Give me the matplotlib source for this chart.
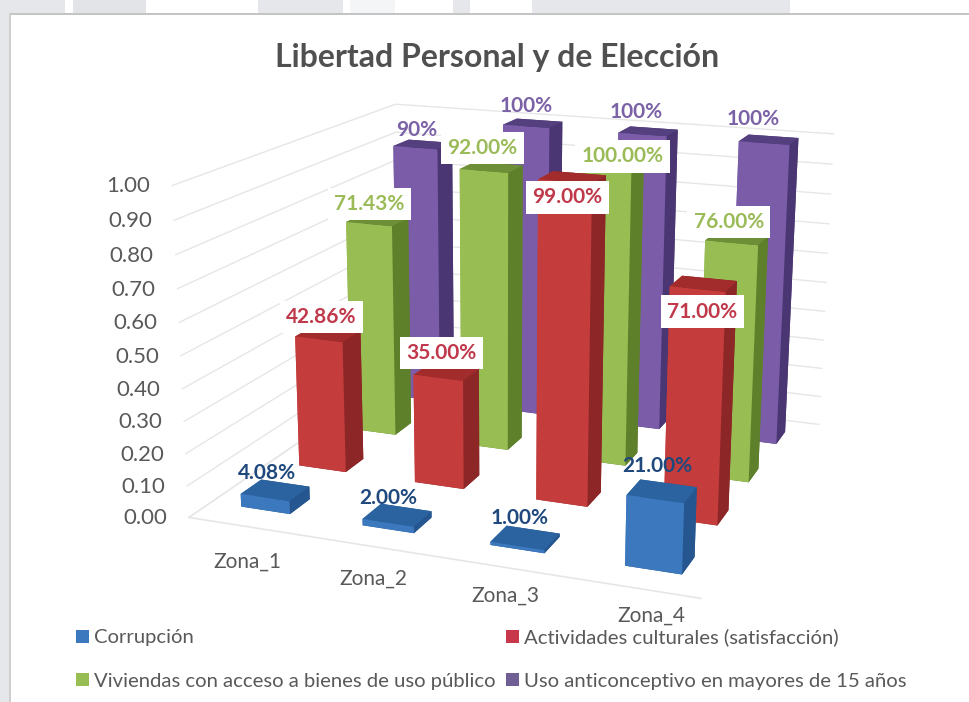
import numpy as np, matplotlib
matplotlib.use('Agg')
import matplotlib.pyplot as plt
from matplotlib.patches import Patch, Rectangle
from mpl_toolkits.mplot3d import proj3d

zones = ['Zona_1', 'Zona_2', 'Zona_3', 'Zona_4']
series = ['Corrupción', 'Actividades culturales (satisfacción)',
          'Viviendas con acceso a bienes de uso público',
          'Uso anticonceptivo en mayores de 15 años']
corrupcion = [0.0408, 0.02, 0.01, 0.21]
actividades = [0.4286, 0.35, 0.99, 0.71]
viviendas = [0.7143, 0.92, 1.00, 0.76]
anticonceptivo = [0.90, 1.00, 1.00, 1.00]
label_fmt = ['{:.2%}', '{:.2%}', '{:.2%}', '{:.0%}']
z_ticks = [0.0, 0.1, 0.2, 0.3, 0.4, 0.5, 0.6, 0.7, 0.8, 0.9, 1.0]

values = [corrupcion, actividades, viviendas, anticonceptivo]
front = ['#3B78BE', '#C43C3C', '#97BD53', '#7A5CA8']
side = ['#25568F', '#8C2627', '#5F802B', '#4A3672']
top = ['#2A639F', '#A22B2B', '#6E8E38', '#55407F']
text_c = ['#1F497D', '#C0394B', '#9BBB59', '#7B62A6']
boxed = [False, True, True, False]
legend_c = ['#3B78BE', '#C8374A', '#97BD53', '#6F5F95']
# pixel nudges of the data labels, one row per series
nudge_x = [[1, 0.5, 3, 4], [2, 4.5, 4, 8], [1, 0, 19, 1], [3, 2.5, -3, -7]]
nudge_y = [[3, 3, 6, 11], [3, 5, -34, -42], [2, 5, -19, 2], [0, 3, 5, 7]]
zone_off_x = [4, 4.5, 5, 12]
zone_off_y = [-36, -33, -29, -27]

plt.rcParams['font.family'] = ['Lato', 'DejaVu Sans']
W, H = 970, 702
fig = plt.figure(figsize=(9.7, 7.02), dpi=100, facecolor='white')

# page behind the chart
for (x0, y0, x1, y1, c) in [(0, 0, 10, 702, '#E6E7EB'), (0, 0, 65, 13, '#E6E7EB'),
                            (73, 0, 146, 13, '#E3E4E8'), (258, 0, 343, 13, '#E6E7EB'),
                            (350, 0, 395, 13, '#F4F5F6'), (453, 0, 470, 13, '#E6E7EB'),
                            (532, 0, 790, 13, '#E6E7EB'), (10, 13, 970, 14.5, '#C4C4C4'),
                            (9.5, 13, 11, 702, '#CFCFCF')]:
    fig.add_artist(Rectangle((x0 / W, 1 - y1 / H), (x1 - x0) / W, (y1 - y0) / H,
                             transform=fig.transFigure, fc=c, ec='none'))

s, tx, ty = 4033.84, 526.71, 316.44
vx0, vx1 = -0.095, 0.09
left = s * vx0 + tx
bottom_px = -s * vx0 + ty
side_px = s * (vx1 - vx0)
ax = fig.add_axes([left / W, 1 - bottom_px / H, side_px / W, side_px / H], projection='3d',
                  computed_zorder=False)
ax.patch.set_alpha(0)
ax.set_xlim(0, 4, view_margin=0); ax.set_ylim(0, 4, view_margin=0); ax.set_zlim(0, 1, view_margin=0)
ax.view_init(elev=15.979, azim=-69.395, roll=-0.246)
ax.set_box_aspect((6.25, 5.997, 3.998))
ax.set_proj_type('persp', focal_length=0.454)
ax.set_axis_off()
M = ax.get_proj()

def to2d(x, y, z):
    return proj3d.proj_transform(x, y, z, M)[:2]

grid = '#E6E6E6'
for z in z_ticks:
    ax.plot([0, 0, 4], [0, 4, 4], [z, z, z], color=grid, lw=1.0, zorder=1)
ax.plot([0, 4], [0, 0], [0, 0], color=grid, lw=1.2, zorder=1)
ax.plot([0, 0], [0, 4], [0, 0], color=grid, lw=1.0, zorder=1)

dx, dy = 0.42, 0.34
pitch = 1.03
xc = [0.47 + pitch * i for i in range(4)]
yc = [0.52 + j for j in range(4)]
order = 10
for j in [3, 2, 1, 0]:
    for i in range(4):
        order += 1
        ax.bar3d(xc[i] - dx / 2, yc[j] - dy / 2, 0, dx, dy, values[j][i],
                 color=[side[j], top[j], front[j], side[j], front[j], side[j]],
                 shade=False, zorder=order, linewidth=0)

for j in range(4):
    for i in range(4):
        v = values[j][i]
        px, py = to2d(xc[i], yc[j], v)
        bb = dict(fc='white', ec='none', pad=4.5) if boxed[j] else None
        ax.annotate(label_fmt[j].format(v), (px, py),
                    xytext=(-9 + nudge_x[j][i], 14 + nudge_y[j][i]), textcoords='offset pixels',
                    ha='center', va='center', color=text_c[j], fontsize=15, fontweight='bold',
                    bbox=bb, zorder=100 + j, annotation_clip=False)

for z in z_ticks:
    px, py = to2d(0, 0, z)
    ax.annotate(f'{z:.2f}', (px, py), xytext=(-22, -1), textcoords='offset pixels', ha='right',
                va='center', color='#595959', fontsize=16, zorder=90, annotation_clip=False)
for i, name in enumerate(zones):
    px, py = to2d(xc[i], 0, 0)
    ax.annotate(name, (px, py), xytext=(zone_off_x[i], zone_off_y[i]), textcoords='offset pixels',
                ha='center', va='center', color='#595959', fontsize=15, zorder=90,
                annotation_clip=False)

fig.text(497 / W, 1 - 57 / H, 'Libertad Personal y de Elección', ha='center', va='center',
         fontsize=23, fontweight='bold', color='#505050')

idx = [0, 2, 1, 3]
handles = [Patch(fc=legend_c[k], ec='none', label=series[k]) for k in idx]
fig.legend(handles=handles, ncol=2, loc='center left', bbox_to_anchor=(76 / W, 1 - 659 / H),
           bbox_transform=fig.transFigure, frameon=False, fontsize=14.6, labelcolor='#595959',
           handlelength=0.62, handleheight=0.62, handletextpad=0.25, columnspacing=0.55,
           labelspacing=1.3, borderpad=0, borderaxespad=0)
fig.savefig('out.png', dpi=100)
